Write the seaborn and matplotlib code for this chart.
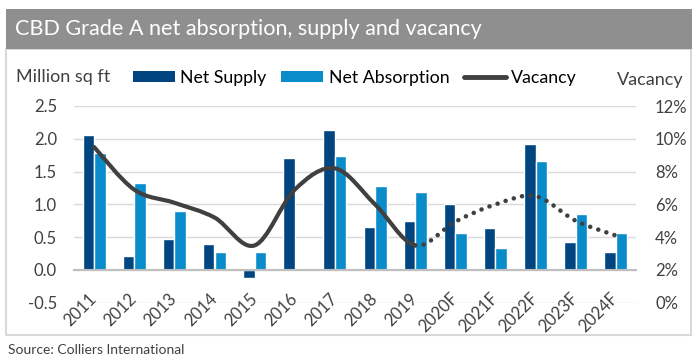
import numpy as np
import pandas as pd
import matplotlib
matplotlib.use("Agg")
import matplotlib.pyplot as plt
import seaborn as sns
from matplotlib.path import Path
from matplotlib.patches import PathPatch, Rectangle, Patch
from matplotlib.lines import Line2D

# ---------------- data ----------------
years = ["2011", "2012", "2013", "2014", "2015", "2016", "2017", "2018",
         "2019", "2020F", "2021F", "2022F", "2023F", "2024F"]
net_supply = [2.06, 0.22, 0.48, 0.39, -0.12, 1.70, 2.14, 0.66, 0.74,
              1.00, 0.64, 1.92, 0.43, 0.27]
net_absorption = [1.79, 1.33, 0.90, 0.27, 0.27, 0.01, 1.74, 1.28, 1.19,
                  0.56, 0.34, 1.66, 0.85, 0.56]
vacancy = [9.5, 6.9, 6.1, 5.2, 3.5, 6.9, 8.2, 6.0, 3.5,
           4.95, 6.0, 6.5, 5.0, 4.1]
left_ticks = [-0.5, 0.0, 0.5, 1.0, 1.5, 2.0, 2.5]
right_ticks = [0, 2, 4, 6, 8, 10, 12]
last_actual = 8  # index of 2019

DARK = "#00457f"
LIGHT = "#0a8ccb"
LINE = "#404040"
TXT = "#404040"

sns.set_style("white")
plt.rcParams["font.family"] = ["Lato", "DejaVu Sans"]

W, H = 699, 364
fig = plt.figure(figsize=(W / 100, H / 100), dpi=100)

# title band and frame
fig.patches.append(Rectangle((6 / W, 1 - 335 / H), 685 / W, 286 / H,
                             transform=fig.transFigure, facecolor="white",
                             edgecolor="#d9d9d9", lw=1.5, zorder=-2))
fig.patches.append(Rectangle((6 / W, 1 - 49 / H), 686 / W, 40 / H,
                             transform=fig.transFigure, facecolor="#8f8f8f",
                             edgecolor="none", zorder=-1))
fig.text(15 / W, 1 - 29 / H, "CBD Grade A net absorption, supply and vacancy",
         color="white", fontsize=15.6, va="center", ha="left")

ax = fig.add_axes([74 / W, 1 - 302.8 / H, (636 - 74) / W, (302.8 - 106) / H])
ax.set_facecolor("none")

df = pd.DataFrame({
    "year": years * 2,
    "value": net_supply + net_absorption,
    "series": ["Net Supply"] * len(years) + ["Net Absorption"] * len(years),
})
sns.barplot(data=df, x="year", y="value", hue="series",
            palette=[DARK, LIGHT], width=0.57, saturation=1,
            ax=ax, legend=False, zorder=2)

ax.set_xlim(-0.5, len(years) - 0.5)
ax.set_ylim(-0.5, 2.5)
ax.set_yticks(left_ticks)
ax.set_yticklabels([f"{v:.1f}" for v in left_ticks])
ax.set_xlabel("")
ax.set_ylabel("")
ax.yaxis.grid(True, color="#d9d9d9", lw=1)
ax.set_axisbelow(True)
for s in ["top", "left", "right"]:
    ax.spines[s].set_visible(False)
ax.spines["bottom"].set_position(("data", 0))
ax.spines["bottom"].set_color("#bfbfbf")
ax.spines["bottom"].set_linewidth(1.5)
ax.spines["bottom"].set_zorder(3)

ax.set_xticks(np.arange(len(years)))
ax.set_xticklabels(years, rotation=45, ha="right", va="center",
                   rotation_mode="anchor")
ax.set_xticks(np.arange(-0.5, len(years), 1.0), minor=True)
ax.tick_params(axis="x", which="major", length=0, pad=18.7,
               labelsize=12, labelcolor=TXT)
ax.tick_params(axis="x", which="minor", length=4, width=1, color="#bfbfbf",
               direction="out")
ax.tick_params(axis="y", length=0, pad=12.2, labelsize=12, labelcolor=TXT)

ax2 = ax.twinx()
ax2.set_ylim(0, 12)
ax2.set_yticks(right_ticks)
ax2.set_yticklabels([f"{v}%" for v in right_ticks])
ax2.tick_params(axis="y", length=0, pad=13.7, labelsize=12, labelcolor=TXT)
for s in ax2.spines.values():
    s.set_visible(False)
ax2.grid(False)

# smoothed vacancy line (Excel-style Bezier through the data points)
xs = np.arange(len(years), dtype=float)
pts = np.column_stack([xs, np.array(vacancy, dtype=float)])


def bezier_path(i0, i1):
    verts = [pts[i0]]
    codes = [Path.MOVETO]
    n = len(pts)
    for i in range(i0, i1):
        p0 = pts[max(i - 1, 0)]
        p1 = pts[i]
        p2 = pts[i + 1]
        p3 = pts[min(i + 2, n - 1)]
        c1 = p1 + (p2 - p0) / 6.0
        c2 = p2 - (p3 - p1) / 6.0
        verts += [c1, c2, p2]
        codes += [Path.CURVE4] * 3
    return Path(verts, codes)


solid = PathPatch(bezier_path(0, last_actual), transform=ax2.transData,
                  facecolor="none", edgecolor=LINE, lw=3.0,
                  capstyle="round", joinstyle="round", zorder=4)
ax2.add_patch(solid)
dotted = PathPatch(bezier_path(last_actual, len(years) - 1),
                   transform=ax2.transData, facecolor="none", edgecolor=LINE,
                   lw=3.3, linestyle=(0, (0.01, 1.85)), capstyle="round",
                   zorder=4)
ax2.add_patch(dotted)

# axis titles and legend
fig.text(16 / W, 1 - 77 / H, "Million sq ft", fontsize=13, color=TXT,
         va="center", ha="left")
fig.text(684 / W, 1 - 80 / H, "Vacancy", fontsize=13, color=TXT,
         va="center", ha="right")

handles = [Patch(facecolor=DARK, edgecolor="none"),
           Patch(facecolor=LIGHT, edgecolor="none"),
           Line2D([], [], color=LINE, lw=3.5)]
labels = ["Net Supply", "Net Absorption", "Vacancy"]
fig.legend(handles, labels, loc="center left",
           bbox_to_anchor=(133 / W, 1 - 78 / H), ncol=3, frameon=False,
           fontsize=12.8, handlelength=2.35, handleheight=0.56,
           handletextpad=0.3, columnspacing=0.85, borderaxespad=0,
           borderpad=0, labelcolor="black")

fig.text(8 / W, 1 - 350 / H, "Source: Colliers International", fontsize=10,
         color=TXT, va="center", ha="left")

fig.savefig("out.png", dpi=100)
